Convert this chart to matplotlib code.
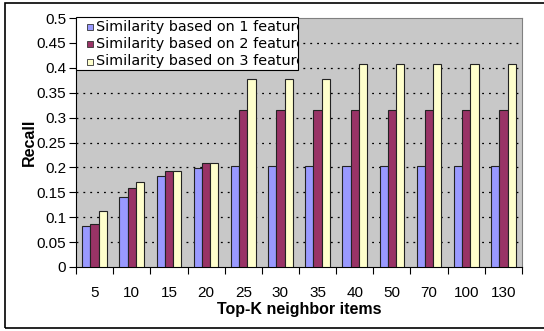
import numpy as np
import matplotlib
matplotlib.use("Agg")
import matplotlib.pyplot as plt
from matplotlib.patches import Rectangle

plt.rcParams.update({"font.family": ["Liberation Sans", "DejaVu Sans"]})

topk = ["5", "10", "15", "20", "25", "30", "35", "40", "50", "70", "100", "130"]
feat1 = [0.083, 0.140, 0.183, 0.199, 0.203, 0.203, 0.203, 0.203, 0.203, 0.203, 0.203, 0.203]
feat2 = [0.087, 0.158, 0.193, 0.209, 0.315, 0.315, 0.315, 0.315, 0.315, 0.315, 0.315, 0.315]
feat3 = [0.112, 0.171, 0.193, 0.209, 0.377, 0.377, 0.377, 0.408, 0.408, 0.408, 0.408, 0.408]
series = [feat1, feat2, feat3]
labels = ["Similarity based on 1 feature", "Similarity based on 2 features",
          "Similarity based on 3 features"]
colors = ["#9999FF", "#993366", "#FFFFCC"]

W, H = 544, 331
fig = plt.figure(figsize=(W / 100, H / 100), dpi=100)
ax = fig.add_axes([76 / W, 1 - 267 / H, (522 - 76) / W, (267 - 18) / H])
ax.set_facecolor("#C8C8C8")

x = np.arange(len(topk))
bw = 1 / 4.5
for i, (vals, col) in enumerate(zip(series, colors)):
    ax.bar(x + (i - 1) * bw, vals, bw, color=col, edgecolor="#222222",
           linewidth=0.8, zorder=3)

ax.set_xlim(-0.5, len(topk) - 0.5)
ax.set_ylim(0, 0.5)
yt = np.arange(0, 0.51, 0.05)
ax.set_yticks(yt)
ax.set_yticklabels(["0" if v == 0 else f"{v:.2f}".rstrip("0") for v in yt])
for v in yt[1:-1]:
    ax.axhline(v, color="black", lw=0.9, ls=(0, (1.5, 4)), zorder=1)

ax.set_xticks(x)
ax.set_xticklabels(topk)
ax.set_xticks(np.arange(-0.5, len(topk)), minor=True)
ax.tick_params(axis="x", which="major", length=0, pad=14, labelsize=11)
ax.tick_params(axis="x", which="minor", length=5, direction="out", width=0.8)
ax.tick_params(axis="y", length=5, direction="out", width=0.8, labelsize=11, pad=2)

for s in ["top", "right"]:
    ax.spines[s].set_color("#808080")
for s in ["left", "bottom"]:
    ax.spines[s].set_color("black")
    ax.spines[s].set_linewidth(0.8)

ax.set_xlabel("Top-K neighbor items", fontsize=11.5, fontweight="bold", labelpad=1)
ax.set_ylabel("Recall", fontsize=11.5, fontweight="bold", labelpad=0)

# legend box overlapping plot, text clipped at its right edge
lx0, lx1, ly0, ly1 = 76, 298, 17, 70
box = Rectangle((lx0 / W, 1 - ly1 / H), (lx1 - lx0) / W, (ly1 - ly0) / H,
                transform=fig.transFigure, facecolor="white", edgecolor="black",
                linewidth=0.8, zorder=10)
fig.patches.append(box)
for i, (lab, col) in enumerate(zip(labels, colors)):
    yc = 26.5 + i * 17.5
    fig.patches.append(Rectangle((87 / W, 1 - (yc + 3) / H), 6 / W, 6 / H,
                                 transform=fig.transFigure, facecolor=col,
                                 edgecolor="#333333", linewidth=0.6, zorder=11))
    t = fig.text(96 / W, 1 - yc / H, lab, fontsize=10.4, va="center", ha="left",
                 family=["DejaVu Sans"], zorder=12)
    t.set_clip_path(box)

# outer chart frame
fig.patches.append(Rectangle((5 / W, 1 - 328 / H), 545 / W, 325 / H,
                             transform=fig.transFigure, facecolor="none",
                             edgecolor="black", linewidth=1.2, zorder=20))

fig.savefig("out.png", dpi=100, facecolor="white")
